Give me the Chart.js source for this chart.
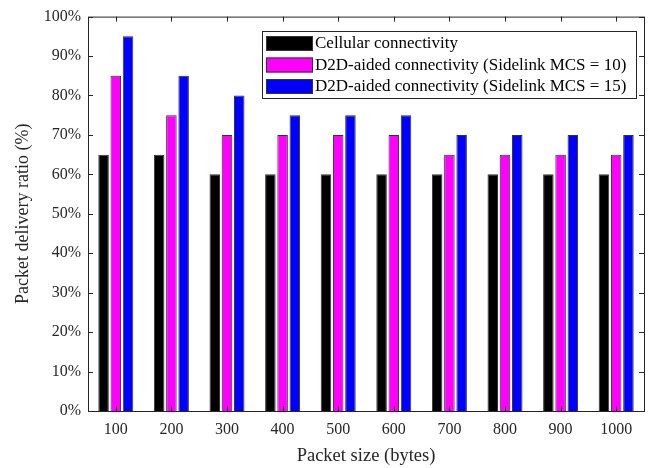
<!DOCTYPE html>
<html lang="en">
<head>
    <meta charset="UTF-8">
    <title>Packet delivery ratio</title>
    <script src="https://cdn.jsdelivr.net/npm/chart.js"></script>
    <style>
        body { margin: 0; background: #fff; }
        .chart-container { width: 657px; height: 468px; position: relative; }
    </style>
</head>
<body>
    <div class="chart-container">
        <canvas id="pdrChart"></canvas>
    </div>
    <script>
        const packetSizes = ['100', '200', '300', '400', '500', '600', '700', '800', '900', '1000'];
        const cellular = [65, 65, 60, 60, 60, 60, 60, 60, 60, 60];
        const d2dMcs10 = [85, 75, 70, 70, 70, 70, 65, 65, 65, 65];
        const d2dMcs15 = [95, 85, 80, 75, 75, 75, 70, 70, 70, 70];
        const seriesLabels = [
            'Cellular connectivity',
            'D2D-aided connectivity (Sidelink MCS = 10)',
            'D2D-aided connectivity (Sidelink MCS = 15)'
        ];
        const seriesColors = ['#000000', '#ff00ff', '#0000ff'];

        const serif = '"Liberation Serif", "Times New Roman", serif';

        // MATLAB-like box with inward ticks, plus the legend inside the plot
        const boxPlugin = {
            id: 'boxAndLegend',
            afterDatasetsDraw(chart) {
                const { ctx, chartArea: a, scales } = chart;
                ctx.save();
                ctx.strokeStyle = '#262626';
                ctx.lineWidth = 1;
                ctx.strokeRect(a.left + 0.5, a.top + 0.5, a.right - a.left, a.bottom - a.top);
                const len = 5;
                ctx.beginPath();
                scales.y.ticks.forEach((t, i) => {
                    const y = Math.round(scales.y.getPixelForTick(i)) + 0.5;
                    ctx.moveTo(a.left, y); ctx.lineTo(a.left + len, y);
                    ctx.moveTo(a.right, y); ctx.lineTo(a.right - len, y);
                });
                scales.x.ticks.forEach((t, i) => {
                    const x = Math.round(scales.x.getPixelForTick(i)) + 0.5;
                    ctx.moveTo(x, a.bottom); ctx.lineTo(x, a.bottom - len);
                    ctx.moveTo(x, a.top); ctx.lineTo(x, a.top + len);
                });
                ctx.stroke();

                // legend
                const lx = 262, ly = 31, lw = 374, lh = 67;
                ctx.fillStyle = '#fff';
                ctx.fillRect(lx, ly, lw, lh);
                ctx.strokeStyle = '#262626';
                ctx.strokeRect(lx + 0.5, ly + 0.5, lw, lh);
                ctx.font = '17px ' + serif;
                ctx.textBaseline = 'middle';
                chart.data.datasets.forEach((ds, i) => {
                    const cy = ly + 12 + i * 21.5;
                    ctx.fillStyle = ds.backgroundColor;
                    ctx.fillRect(lx + 4, cy - 7, 47, 15);
                    ctx.strokeStyle = '#333';
                    ctx.strokeRect(lx + 4.5, cy - 6.5, 46, 14);
                    ctx.fillStyle = '#000';
                    ctx.fillText(ds.label, lx + 53, cy + 1);
                });
                ctx.restore();
            }
        };

        const datasets = [cellular, d2dMcs10, d2dMcs15].map((values, i) => ({
            label: seriesLabels[i],
            data: values,
            backgroundColor: seriesColors[i],
            borderColor: '#333',
            borderWidth: 1,
            categoryPercentage: 0.66,
            barPercentage: 0.86
        }));

        new Chart(document.getElementById('pdrChart'), {
            type: 'bar',
            data: { labels: packetSizes, datasets: datasets },
            options: {
                responsive: true,
                maintainAspectRatio: false,
                animation: false,
                layout: { padding: { top: 15, right: 13, left: 0, bottom: 0 } },
                plugins: {
                    legend: { display: false },
                    tooltip: { enabled: false }
                },
                scales: {
                    x: {
                        grid: { display: false, drawTicks: false },
                        border: { display: false },
                        ticks: { color: '#262626', padding: 9, font: { family: serif, size: 16 } },
                        title: {
                            display: true,
                            text: 'Packet size (bytes)',
                            color: '#262626',
                            padding: { top: 9, bottom: 1 },
                            font: { family: serif, size: 18.5 }
                        },
                        afterFit: s => { s.height = 57; }
                    },
                    y: {
                        min: 0,
                        max: 100,
                        grid: { display: false, drawTicks: false },
                        border: { display: false },
                        ticks: {
                            stepSize: 10,
                            color: '#262626',
                            padding: 7,
                            font: { family: serif, size: 16 },
                            callback: v => v + '%'
                        },
                        title: {
                            display: true,
                            text: 'Packet delivery ratio (%)',
                            color: '#262626',
                            padding: { top: 12, bottom: 4 },
                            font: { family: serif, size: 18 }
                        },
                        afterFit: s => { s.width = 88; }
                    }
                }
            },
            plugins: [boxPlugin]
        });
    </script>
</body>
</html>
